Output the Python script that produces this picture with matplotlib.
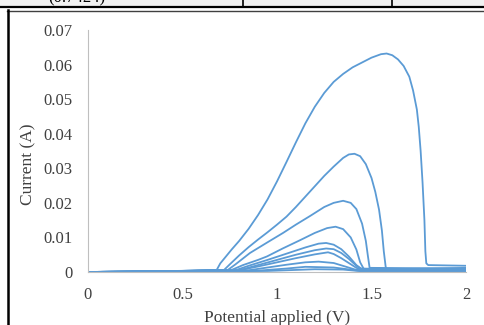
import matplotlib
matplotlib.use('Agg')
import matplotlib.pyplot as plt
from matplotlib.lines import Line2D
from matplotlib.patches import Rectangle

# potential (V) and current (A) for each sweep
v1 = [0, 0.3, 0.6, 0.68, 0.70, 0.73, 0.76, 0.80, 0.85, 0.90, 0.95, 1.00, 1.05, 1.10, 1.15,
      1.20, 1.25, 1.30, 1.35, 1.40, 1.45, 1.50, 1.55, 1.58, 1.61, 1.64, 1.67, 1.70, 1.72,
      1.74, 1.75, 1.76, 1.77, 1.78, 1.785, 1.79, 1.80, 2.0]
i1 = [0, 0.0002, 0.0004, 0.0005, 0.0025, 0.0045, 0.0065, 0.0090, 0.0125, 0.0165, 0.0210,
      0.0262, 0.0318, 0.0375, 0.0430, 0.0478, 0.0518, 0.0550, 0.0573, 0.0592, 0.0606, 0.0620,
      0.0630, 0.0632, 0.0627, 0.0615, 0.0596, 0.0565, 0.0525, 0.0470, 0.0420, 0.0350, 0.0260,
      0.0150, 0.0060, 0.0025, 0.0020, 0.0018]

v2 = [0, 0.4, 0.72, 0.75, 0.80, 0.85, 0.90, 0.95, 1.00, 1.05, 1.10, 1.15, 1.20, 1.25, 1.30,
      1.35, 1.38, 1.41, 1.44, 1.47, 1.50, 1.52, 1.54, 1.555, 1.565, 1.575, 1.58, 2.0]
i2 = [0, 0.0002, 0.0006, 0.0022, 0.0048, 0.0072, 0.0094, 0.0115, 0.0137, 0.0160, 0.0188,
      0.0218, 0.0248, 0.0278, 0.0305, 0.0330, 0.0340, 0.0342, 0.0335, 0.0312, 0.0272, 0.0232,
      0.0180, 0.0120, 0.0060, 0.0015, 0.0008, 0.0012]

v3 = [0, 0.4, 0.74, 0.78, 0.857, 0.95, 1.032, 1.10, 1.175, 1.25, 1.30, 1.35, 1.39, 1.42,
      1.45, 1.47, 1.48, 1.49, 2.0]
i3 = [0, 0.0002, 0.0006, 0.0022, 0.0055, 0.0086, 0.0113, 0.0137, 0.0162, 0.0188, 0.0200,
      0.0206, 0.0200, 0.0182, 0.0140, 0.0090, 0.0050, 0.0012, 0.0010]

v4 = [0, 0.4, 0.76, 0.82, 0.90, 0.947, 1.03, 1.122, 1.20, 1.265, 1.31, 1.35, 1.39, 1.42,
      1.44, 1.46, 2.0]
i4 = [0, 0.0002, 0.0006, 0.0020, 0.0035, 0.0045, 0.0068, 0.0092, 0.0113, 0.0127, 0.0131,
      0.0124, 0.0100, 0.0065, 0.0028, 0.0008, 0.0008]

v5 = [0, 0.4, 0.78, 0.85, 0.95, 1.05, 1.15, 1.22, 1.26, 1.30, 1.34, 1.38, 1.42, 1.45, 2.0]
i5 = [0, 0.0002, 0.0005, 0.0018, 0.0035, 0.0053, 0.0071, 0.0082, 0.0084, 0.0079, 0.0066,
      0.0045, 0.0020, 0.0008, 0.0006]

v6 = [0, 0.4, 0.8, 0.9, 1.0, 1.1, 1.2, 1.26, 1.30, 1.34, 1.38, 1.42, 1.44, 2.0]
i6 = [0, 0.0002, 0.0005, 0.0020, 0.0035, 0.0050, 0.0063, 0.0068, 0.0066, 0.0055, 0.0038,
      0.0018, 0.0010, 0.0005]

v7 = [0, 0.4, 0.8, 0.9, 1.0, 1.1, 1.2, 1.27, 1.30, 1.34, 1.38, 1.42, 1.45, 2.0]
i7 = [0, 0.0002, 0.0005, 0.0016, 0.0028, 0.0040, 0.0051, 0.0057, 0.0052, 0.0040, 0.0026,
      0.0012, 0.0006, 0.0004]

v8 = [0, 0.4, 0.85, 0.95, 1.05, 1.15, 1.22, 1.30, 1.36, 1.42, 2.0]
i8 = [0, 0.0002, 0.0005, 0.0013, 0.0021, 0.0028, 0.0030, 0.0026, 0.0016, 0.0006, 0.0003]

v9 = [0, 0.5, 0.9, 1.05, 1.15, 1.3, 1.43, 2.0]
i9 = [0, 0.0002, 0.0004, 0.0010, 0.0015, 0.0013, 0.0004, 0.0002]

v10 = [0, 0.5, 0.95, 1.2, 1.35, 1.45, 2.0]
i10 = [0, 0.0001, 0.0003, 0.0008, 0.0007, 0.0002, 0.0001]

sweeps = [(v1, i1), (v2, i2), (v3, i3), (v4, i4), (v5, i5),
          (v6, i6), (v7, i7), (v8, i8), (v9, i9), (v10, i10)]

x_ticks = [0, 0.5, 1, 1.5, 2]
x_tick_labels = ['0', '0.5', '1', '1.5', '2']
y_ticks = [0, 0.01, 0.02, 0.03, 0.04, 0.05, 0.06, 0.07]
y_tick_labels = ['0', '0.01', '0.02', '0.03', '0.04', '0.05', '0.06', '0.07']

plt.rcParams['font.family'] = ['Liberation Serif', 'DejaVu Serif']

W, H = 484, 325
fig = plt.figure(figsize=(W / 100, H / 100), dpi=100)


def fx(px):
    return px / W


def fy(py):
    return 1 - py / H


# leftover table row from the page above the chart
fig.add_artist(Rectangle((0, fy(6.5)), 1, 6.5 / H, transform=fig.transFigure,
                         facecolor='#f2f2f2', edgecolor='none'))
fig.add_artist(Line2D([0, 1], [fy(6.5), fy(6.5)], color='black', lw=1.6))
for px in (243, 392):
    fig.add_artist(Line2D([fx(px), fx(px)], [fy(0), fy(6.5)], color='black', lw=1.2))
fig.text(fx(77), fy(2.5), '(0.7424)', ha='center', va='baseline', fontsize=12)

# chart frame
fig.add_artist(Line2D([fx(7), 1], [fy(10.5), fy(10.5)], color='#404040', lw=1.0))
fig.add_artist(Line2D([fx(7.5), fx(7.5)], [fy(10), 0], color='black', lw=1.8))

ax = fig.add_axes([fx(88), fy(272), fx(466) - fx(88), fy(30) - fy(272)])
for v, i in sweeps:
    ax.plot(v, i, color='#5b9bd5', lw=1.3, solid_joinstyle='round')

ax.set_xlim(0, 2)
ax.set_ylim(0, 0.07)
ax.set_xticks(x_ticks, x_tick_labels)
ax.set_yticks(y_ticks, y_tick_labels)
ax.tick_params(length=0, labelsize=12, colors='#404040')
ax.tick_params(axis='y', pad=11)
ax.tick_params(axis='x', pad=11)
for s in ('top', 'right'):
    ax.spines[s].set_visible(False)
ax.spines['left'].set_color('#bfbfbf')
ax.spines['bottom'].set_color('#bfbfbf')
ax.spines['left'].set_linewidth(0.8)
ax.spines['bottom'].set_linewidth(0.8)
ax.set_facecolor('none')

fig.text(fx(28), fy(164), 'Current (A)', rotation=90, ha='center', va='center',
         fontsize=12.5, color='#404040')
fig.text(fx(277), fy(318), 'Potential applied (V)', ha='center', va='center',
         fontsize=12.5, color='#404040')

fig.savefig('out.png', dpi=100)
